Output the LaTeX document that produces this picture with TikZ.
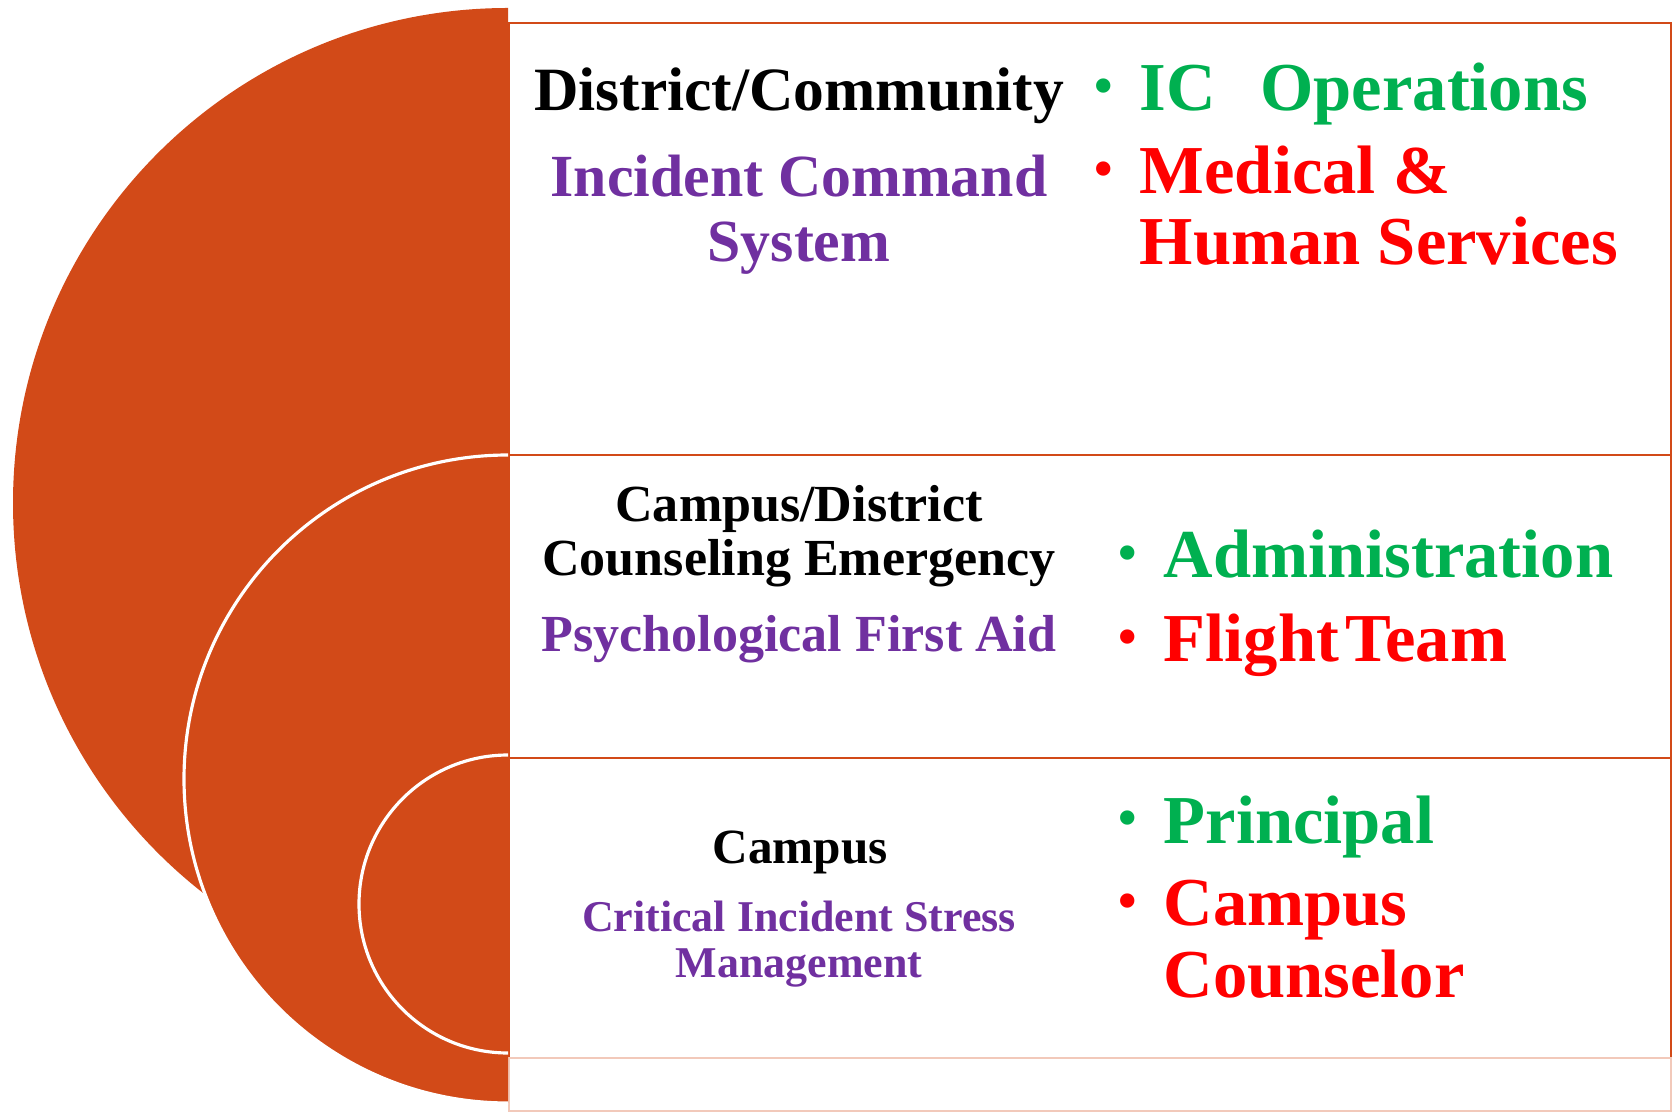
\documentclass[tikz,border=0pt]{standalone}
\usepackage{fontspec}
\setmainfont{Liberation Serif}
\definecolor{rust}{RGB}{210,74,24}
\definecolor{cgreen}{RGB}{0,176,80}
\definecolor{cpurple}{RGB}{112,48,160}
\newcommand{\blt}[1]{\llap{{\fontsize{15}{15}\selectfont\raisebox{2pt}{•}}\hspace{7.5pt}}#1}

\begin{document}
\begin{tikzpicture}[x=0.01cm, y=-0.01cm,
  tier/.style={draw=rust, line width=0.8pt},
  disc/.style={fill=rust, draw=white, line width=0.9pt},
  head/.style 2 args={anchor=base, align=center, inner sep=0pt,
              font=\bfseries\fontsize{#1}{#2}\selectfont},
  item/.style={anchor=base west, align=left, inner sep=0pt,
              font=\bfseries\fontsize{19.5}{20.2}\selectfont}]

  \useasboundingbox (0,0) rectangle (1673,1113);

  % Ramki poziomow
  \draw[tier] (509,23) rectangle (1671,455);
  \draw[tier] (509,455) rectangle (1671,758);
  \draw[tier] (509,758) rectangle (1671,1058);
  \draw[draw=rust!30, line width=0.6pt] (509,1058) rectangle (1671,1111);

  % Polkola
  \begin{scope}
    \clip (0,0) rectangle (508,1113);
    \fill[rust] (508,503) circle[radius=495];
    \draw[disc] (508,779) circle[radius=324];
    \draw[disc] (508,904) circle[radius=149];
  \end{scope}

  % Poziom 1 (wielowierszowe: base = ostatni wiersz)
  \node[head={17.5}{21}] (dist) at (799,111) {District/Community};
  \node[head={17}{18.5}, text=cpurple] (ics) at (799,262)
    {Incident Command\\System};
  \node[item, text=cgreen] (icops) at (1139,111)
    {\blt{IC\hspace{0.65em}Operations}};
  \node[item, text=red] (med) at (1139,265)
    {\blt{Medical \&}\\Human Services};

  % Poziom 2
  \node[head={14.8}{15.4}] (campdist) at (799,576)
    {Campus/District\\Counseling Emergency};
  \node[head={14.8}{17}, text=cpurple] (pfa) at (799,652)
    {Psychological First Aid};
  \node[item, text=cgreen] (admin) at (1163,578) {\blt{Administration}};
  \node[item, text=red] (flight) at (1163,662)
    {\blt{Flight\hspace{0.1em}Team}};

  % Poziom 3
  \node[head={14}{16}] (camp) at (800,863) {Campus};
  \node[head={12.5}{12.8}, text=cpurple] (cism) at (799,977)
    {Critical Incident Stress\\Management};
  \node[item, text=cgreen] (princ) at (1163,843) {\blt{Principal}};
  \node[item, text=red] (couns) at (1163,997) {\blt{Campus}\\Counselor};
\end{tikzpicture}
\end{document}
